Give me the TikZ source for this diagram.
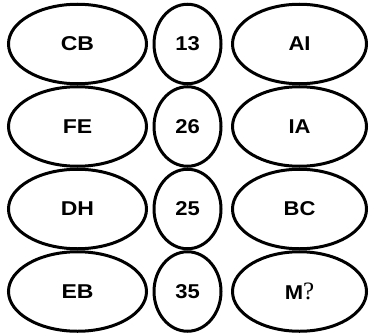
\documentclass[tikz,border=0pt]{standalone}
\usepackage{fontspec}
\setmainfont{Liberation Sans}
\newfontfamily\qfont{Liberation Serif}
\usetikzlibrary{shapes.geometric}
\begin{document}
\begin{tikzpicture}[x=1pt,y=-1pt,
  oval/.style={draw=black,line width=3pt,ellipse,inner sep=0pt,
    font=\fontsize{20}{20}\selectfont\bfseries},
  lbig/.style={oval,minimum width=138pt,minimum height=79.5pt},
  rbig/.style={oval,minimum width=134pt,minimum height=79.5pt},
  mid/.style={oval,minimum width=67pt,minimum height=79.5pt}]
\useasboundingbox (0,0) rectangle (371,334);
\node[lbig] (l1) at (77.5,44) {\scalebox{1.15}[1]{CB}};
\node[mid]  (m1) at (187.5,44) {\scalebox{1.1}[1]{13}};
\node[rbig] (r1) at (299.5,44) {\scalebox{1.1}[1]{AI}};
\node[lbig] (l2) at (77.5,126.5) {\scalebox{1.15}[1]{FE}};
\node[mid]  (m2) at (187.5,126.5) {\scalebox{1.1}[1]{26}};
\node[rbig] (r2) at (299.5,126.5) {\scalebox{1.1}[1]{IA}};
\node[lbig] (l3) at (77.5,209) {\scalebox{1.15}[1]{DH}};
\node[mid]  (m3) at (187.5,209) {\scalebox{1.1}[1]{25}};
\node[rbig] (r3) at (299.5,209) {\scalebox{1.1}[1]{BC}};
\node[lbig] (l4) at (77.5,291.5) {\scalebox{1.15}[1]{EB}};
\node[mid]  (m4) at (187.5,291.5) {\scalebox{1.1}[1]{35}};
\node[rbig] (r4) at (299.5,291.5) {\scalebox{1.1}[1]{M}{\qfont\mdseries\fontsize{25}{25}\selectfont ?}};
\end{tikzpicture}
\end{document}
